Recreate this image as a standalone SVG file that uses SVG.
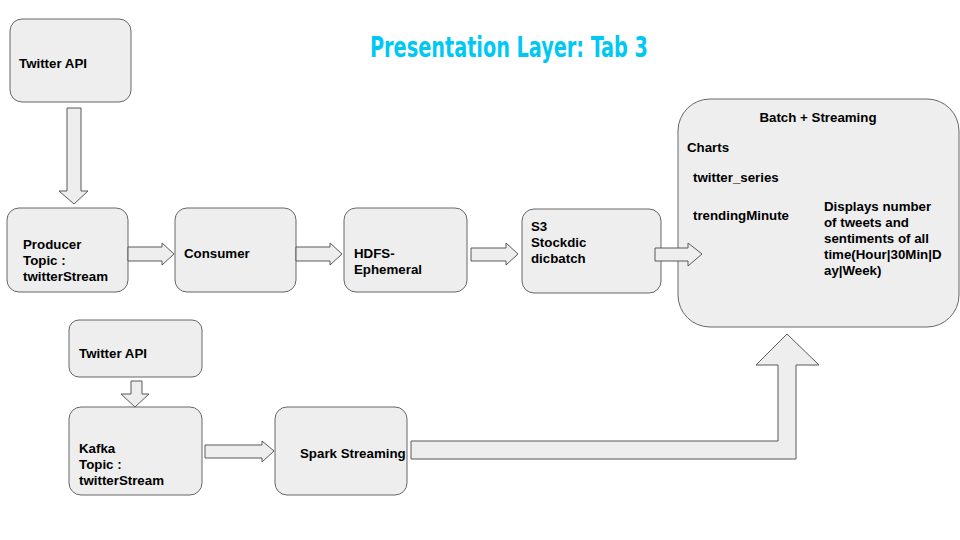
<svg xmlns="http://www.w3.org/2000/svg" width="960" height="540" viewBox="0 0 960 540">
<style>
.box{fill:#eeeeee;stroke:#666666;stroke-width:1}
.arr{fill:#eeeeee;stroke:#595959;stroke-width:1;stroke-linejoin:miter}
.t{font-family:"Liberation Sans",Arial,sans-serif;font-weight:bold;font-size:13.3px;fill:#000}
.title{font-family:"DejaVu Sans Condensed","DejaVu Sans",sans-serif;font-weight:bold;font-size:29px;fill:#00c8f4}
</style>
<rect width="960" height="540" fill="#ffffff"/>
<text class="title" x="509" y="57" text-anchor="middle" textLength="278" lengthAdjust="spacingAndGlyphs">Presentation Layer: Tab 3</text>
<g id="twitter-api-top">
<rect class="box" x="10" y="19" width="121" height="83" rx="12"/>
<text class="t" x="19" y="68">Twitter API</text>
</g>
<g id="producer">
<rect class="box" x="7" y="208" width="121" height="84" rx="12"/>
<text class="t" x="23" y="249">Producer</text>
<text class="t" x="23" y="265">Topic :</text>
<text class="t" x="23" y="281">twitterStream</text>
</g>
<g id="consumer">
<rect class="box" x="175" y="208" width="121" height="84" rx="12"/>
<text class="t" x="184" y="258">Consumer</text>
</g>
<g id="hdfs">
<rect class="box" x="344" y="208" width="123" height="84" rx="12"/>
<text class="t" x="354" y="258">HDFS-</text>
<text class="t" x="354" y="274">Ephemeral</text>
</g>
<g id="s3">
<rect class="box" x="522" y="209" width="139" height="84" rx="12"/>
<text class="t" x="531" y="231">S3</text>
<text class="t" x="531" y="247">Stockdic</text>
<text class="t" x="531" y="263">dicbatch</text>
</g>
<g id="batch-streaming">
<rect class="box" x="678" y="99" width="281" height="228" rx="32"/>
<text class="t" x="818" y="122" text-anchor="middle">Batch + Streaming</text>
<text class="t" x="687" y="152">Charts</text>
<text class="t" x="693" y="182">twitter_series</text>
<text class="t" x="693" y="220">trendingMinute</text>
<text class="t" x="824" y="211">Displays number</text>
<text class="t" x="824" y="227">of tweets and</text>
<text class="t" x="824" y="243">sentiments of all</text>
<text class="t" x="824" y="259">time(Hour|30Min|D</text>
<text class="t" x="824" y="275">ay|Week)</text>
</g>
<g id="twitter-api-bottom">
<rect class="box" x="69" y="320" width="133" height="57" rx="10"/>
<text class="t" x="79" y="358">Twitter API</text>
</g>
<g id="kafka">
<rect class="box" x="69" y="407" width="133" height="88" rx="12"/>
<text class="t" x="79" y="453">Kafka</text>
<text class="t" x="79" y="469">Topic :</text>
<text class="t" x="79" y="485">twitterStream</text>
</g>
<g id="spark-streaming">
<rect class="box" x="275" y="407" width="132" height="88" rx="12"/>
<text class="t" x="300" y="458">Spark Streaming</text>
</g>
<g id="connectors">
<path class="arr" d="M67,108 L81,108 L81,191 L88,191 L74,204 L59,191 L67,191 Z"/>
<path class="arr" d="M128,247 L162,247 L162,243 L174,254 L162,265 L162,261 L128,261 Z"/>
<path class="arr" d="M296,247 L330,247 L330,243 L342,254 L330,265 L330,261 L296,261 Z"/>
<path class="arr" d="M471,248 L506,248 L506,243 L518,254 L506,265 L506,261 L471,261 Z"/>
<path class="arr" d="M655,248 L688,248 L688,243 L702,254 L688,266 L688,261 L655,261 Z"/>
<path class="arr" d="M131,381 L142,381 L142,394 L149,394 L135,407 L121,394 L131,394 Z"/>
<path class="arr" d="M205,445 L262,445 L262,441 L274,451 L262,462 L262,458 L205,458 Z"/>
<path class="arr" d="M411,441 L778,441 L778,365 L756,365 L787,334 L819,365 L796,365 L796,459 L411,459 Z"/>
</g>
</svg>
